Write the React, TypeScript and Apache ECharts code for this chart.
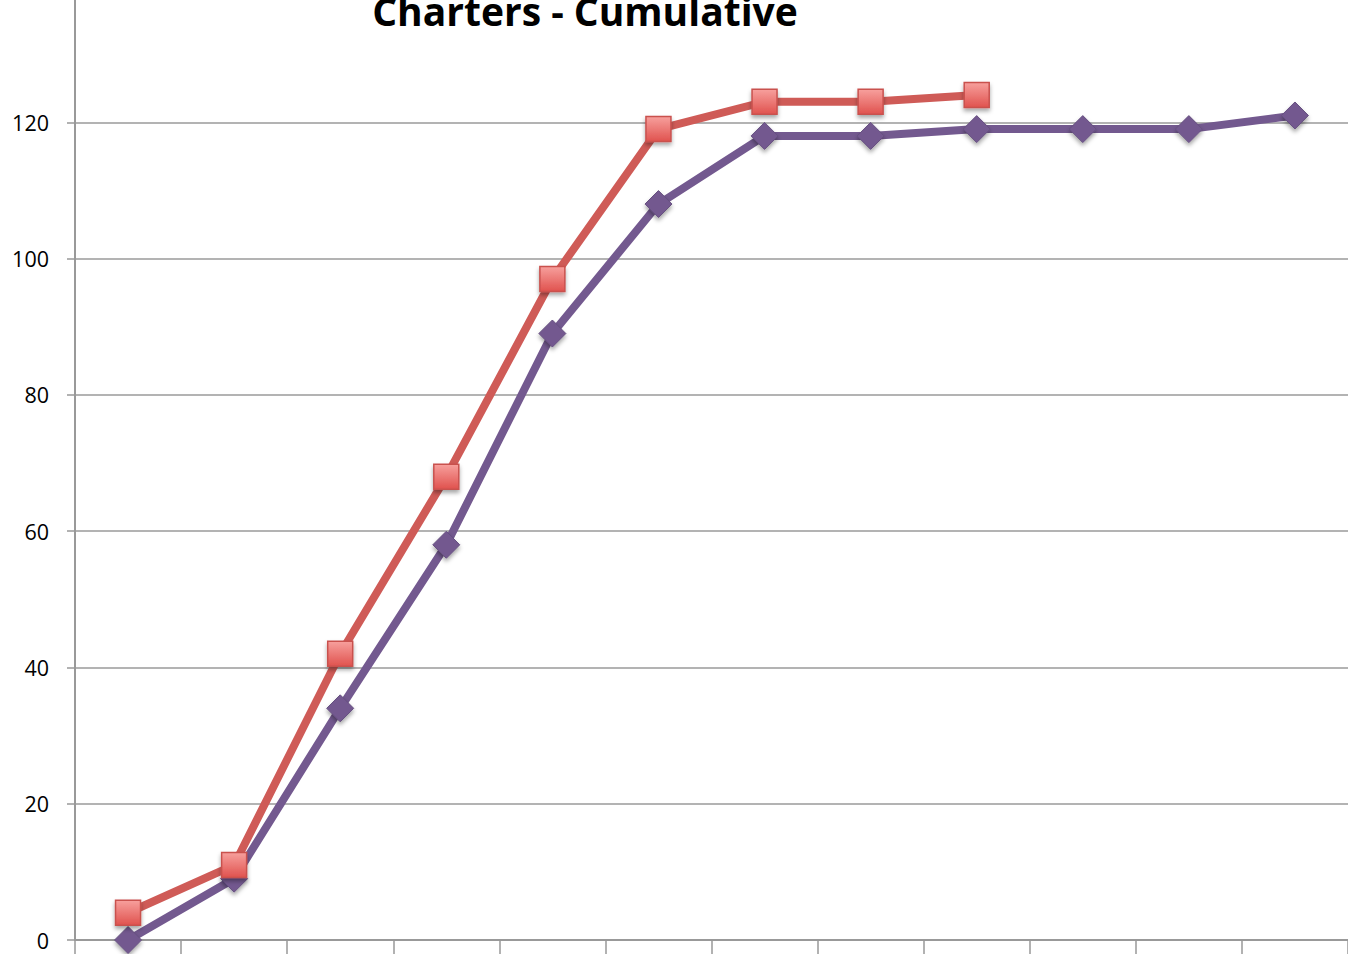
import React, { useEffect, useRef } from "react";
import * as echarts from "echarts";

const categories = ["1", "2", "3", "4", "5", "6", "7", "8", "9", "10", "11", "12"];
const seriesPurple = [0, 9, 34, 58, 89, 108, 118, 118, 119, 119, 119, 121];
const seriesRed = [4, 11, 42, 68, 97, 119, 123, 123, 124];
const yTicks = { min: 0, max: 140, interval: 20 };
const titleText = "Charters - Cumulative";

export default function App() {
  const ref = useRef<HTMLDivElement>(null);
  useEffect(() => {
    if (!ref.current) return;
    const chart = echarts.init(ref.current, null, { renderer: "svg" });
    chart.setOption({
      animation: false,
      backgroundColor: "#ffffff",
      title: {
        text: titleText,
        left: 580,
        top: 6,
        textAlign: "center",
        textStyle: { fontFamily: "Open Sans", fontWeight: "bold", fontSize: 39, color: "#000" },
      },
      grid: { left: 75, right: -2, top: 6, bottom: 14, containLabel: false },
      xAxis: {
        type: "category",
        data: categories,
        boundaryGap: true,
        axisLine: { lineStyle: { color: "#999", width: 2 } },
        axisTick: { show: true, length: 14, lineStyle: { color: "#999", width: 1.5 }, alignWithLabel: false },
        axisLabel: { show: false },
        splitLine: { show: false },
      },
      yAxis: {
        type: "value",
        min: yTicks.min,
        max: yTicks.max,
        interval: yTicks.interval,
        axisLine: { show: true, lineStyle: { color: "#999", width: 2 } },
        axisTick: { show: true, inside: false, length: 8, lineStyle: { color: "#999", width: 1.5 } },
        axisLabel: { margin: 26, fontFamily: "Open Sans", fontSize: 21.5, color: "#000", showMaxLabel: false },
        splitLine: { show: true, lineStyle: { color: "#9a9a9a", width: 1.5 } },
      },
      series: [
        {
          type: "line",
          data: seriesPurple,
          z: 2,
          symbol: "diamond",
          symbolSize: [27, 27],
          lineStyle: { color: "#73598f", width: 8 },
          itemStyle: {
            color: "#73598f",
            borderColor: "#664f80",
            borderWidth: 1,
            shadowBlur: 4,
            shadowColor: "rgba(0,0,0,0.35)",
            shadowOffsetY: 3,
          },
        },
        {
          type: "line",
          data: seriesRed,
          z: 3,
          symbol: "rect",
          symbolSize: 25,
          lineStyle: { color: "#cf5b57", width: 8 },
          itemStyle: {
            color: new echarts.graphic.LinearGradient(0, 0, 0, 1, [
              { offset: 0, color: "#f7a09d" },
              { offset: 1, color: "#e0524e" },
            ]),
            borderColor: "#c9514e",
            borderWidth: 1.5,
            shadowBlur: 4,
            shadowColor: "rgba(0,0,0,0.35)",
            shadowOffsetY: 3,
          },
        },
      ],
    });
    return () => chart.dispose();
  }, []);
  return (
    <div
      ref={ref}
      style={{ position: "absolute", left: 0, top: -20, width: 1348, height: 974 }}
    />
  );
}
